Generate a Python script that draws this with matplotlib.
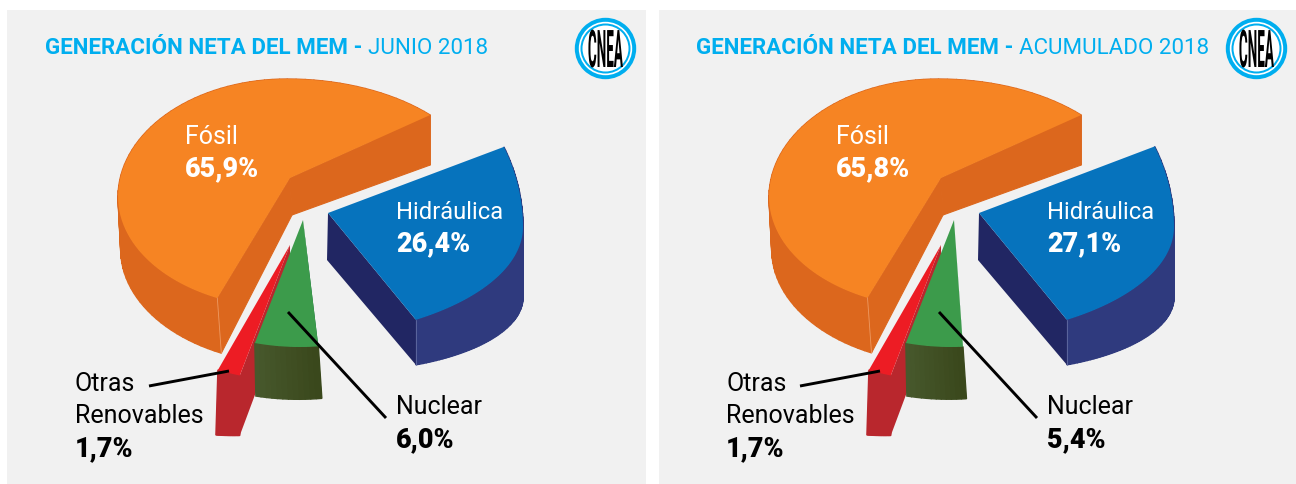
import numpy as np
import matplotlib
matplotlib.use("Agg")
import matplotlib.pyplot as plt
from matplotlib.patches import Rectangle, Circle
from matplotlib.patheffects import AbstractPathEffect
from matplotlib.transforms import Affine2D

# data
titles = ["JUNIO 2018", "ACUMULADO 2018"]
fosil = [65.9, 65.8]
hidraulica = [26.4, 27.1]
nuclear = [6.0, 5.4]
otras = [1.7, 1.7]

plt.rcParams["font.family"] = ["Roboto", "DejaVu Sans"]

CYAN = "#00AEEF"
DPX = 0.72  # px to pt at dpi 100


class StretchY(AbstractPathEffect):
    # tall narrow letters of the logo
    def __init__(self, sy):
        super().__init__()
        self.sy = sy

    def draw_path(self, renderer, gc, tpath, affine, rgbFace=None):
        renderer.draw_path(gc, tpath, Affine2D().scale(1, self.sy) + affine, rgbFace)


def arc(shape, t1, t2, n=80):
    # shape: cx, cy, rx right, rx left, ry top, ry bottom
    cx, cy, rxr, rxl, ryt, ryb = shape
    t = np.radians(np.linspace(t1, t2, n))
    c, s = np.cos(t), np.sin(t)
    x = cx + np.where(c > 0, rxr, rxl) * c
    y = cy - np.where(s > 0, ryt, ryb) * s
    return x, y


def side(ax, x, y, d1, d2, dx1, dx2, color):
    # one quad per step so the silhouette stays closed at the far left/right
    d = np.linspace(d1, d2, len(x))
    dx = np.linspace(dx1, dx2, len(x))
    for j in range(len(x) - 1):
        ax.fill([x[j], x[j + 1], x[j + 1] + dx[j + 1], x[j] + dx[j]],
                [y[j], y[j + 1], y[j + 1] + d[j + 1], y[j] + d[j]],
                color=color, lw=1)
    return x + dx, y + d


def draw_pie(ax, i, ox):
    # the wedges of the source are not true to scale, so each has its own factor
    # fosil
    sh = (287 + ox, 197, 199, 169, 118, 111)
    x, y = arc(sh, 44, 44 + 3.6 * fosil[i] * 0.85)
    bx, by = side(ax, x, y, 50, 55, 0, 4, "#DC671D")
    ap = (290 + ox, 178)
    ab = (292 + ox, 215)
    ax.fill([ap[0], x[0], bx[0], ab[0]], [ap[1], y[0], by[0], ab[1]], color="#DC671D", lw=0.8)
    ax.fill([ap[0], x[-1], bx[-1], ab[0]], [ap[1], y[-1], by[-1], ab[1]], color="#DC671D", lw=0.8)
    ax.fill(np.r_[ap[0], x], np.r_[ap[1], y], color="#F68423", lw=0)
    ax.plot([x[-1], bx[-1]], [y[-1], by[-1]], color="#EE9A62", lw=0.6)

    # hidraulica
    sh = (280 + ox, 227, 243, 243, 206, 112)
    x, y = arc(sh, -56, -56 + 3.6 * hidraulica[i] * [0.83, 0.81][i])
    bx, by = side(ax, x, y, 45, 81, 0, 0, "#2F3A7E")
    ap = (328 + ox, 213)
    ax.fill([ap[0], x[0], bx[0], ap[0] - 1], [ap[1], y[0], by[0], ap[1] + 47], color="#212663", lw=0)
    ax.fill(np.r_[ap[0], x], np.r_[ap[1], y], color="#0673BD", lw=0)
    ax.plot([x[0], bx[0]], [y[0], by[0]], color="#6C76A8", lw=0.5)

    # otras renovables
    sh = (290 + ox, 240, 190, 190, 140.5, 140.5)
    x, y = arc(sh, 247.7, 247.7 + 3.6 * otras[i] * 1.14, 20)
    ap = (290 + ox, 245)
    bx, by = side(ax, x, y, 65, 60, -2, 0, "#B9272D")
    ax.fill([ap[0], x[-1], bx[-1], ap[0]], [ap[1], y[-1], by[-1], 301], color="#B9272D", lw=0)
    ax.fill(np.r_[ap[0], x], np.r_[ap[1], y], color="#ED1C24", lw=0)

    # nuclear
    sh = (300 + ox, 237, 170, 170, 110, 110)
    x, y = arc(sh, 254.6, 254.6 + 3.6 * nuclear[i], 13)
    ap = (303 + ox, 220)
    d = np.linspace(53, 52, len(x))
    dx = np.linspace(1, 3.5, len(x))
    ax.fill([ap[0], x[-1], x[-1] + dx[-1]], [ap[1], y[-1], y[-1] + d[-1]], color="#00602F", lw=0)
    c1 = np.array(matplotlib.colors.to_rgb("#47582C"))
    c2 = np.array(matplotlib.colors.to_rgb("#3A481C"))
    for j in range(len(x) - 1):
        col = c1 + (c2 - c1) * j / (len(x) - 2)
        ax.fill([x[j], x[j + 1], x[j + 1] + dx[j + 1], x[j] + dx[j]],
                [y[j], y[j + 1], y[j + 1] + d[j + 1], y[j] + d[j]],
                color=col, lw=1)
    ax.fill(np.r_[ap[0], x], np.r_[ap[1], y], color="#3C9B4B", lw=0)


def draw_logo(ax, cx, cy):
    for r, col in [(30.7, CYAN), (26.7, "white"), (25, CYAN), (23, "white")]:
        ax.add_patch(Circle((cx, cy), r, color=col, lw=0))
    t = ax.text(cx, cy + 18.5, "CNEA", color="black", fontsize=13.5 * DPX, fontweight="bold",
                ha="center", va="baseline")
    t.set_path_effects([StretchY(3.85)])


def pct(v):
    return f"{v:.1f}%".replace(".", ",")


fig = plt.figure(figsize=(12.96, 4.84), dpi=100)
ax = fig.add_axes([0, 0, 1, 1])
ax.set_xlim(0, 1296)
ax.set_ylim(484, 0)
ax.axis("off")

ax.add_patch(Rectangle((7, 10), 639, 474, color="#F1F1F1", lw=0))
ax.add_patch(Rectangle((659, 10), 637, 474, color="#F1F1F1", lw=0))

LAB = 25 * DPX
NUM = 27 * DPX
for i, ox in enumerate([0, 651]):
    t = ax.text(45 + ox, 54, "GENERACIÓN NETA DEL MEM - ", color=CYAN, fontsize=22.4 * DPX,
                fontweight="bold", va="baseline")
    ax.annotate(titles[i], xy=(1, 0), xycoords=t, color=CYAN, fontsize=22.4 * DPX, va="bottom")
    draw_logo(ax, 605.5 + ox, 48.5)
    draw_pie(ax, i, ox)

    ax.plot(np.array([149, 229]) + ox, [386, 371], color="black", lw=2.1, solid_capstyle="butt")
    ax.plot(np.array([288, 386]) + ox, [312, 418], color="black", lw=2.1, solid_capstyle="butt")

    ax.text(185 + ox, 144, "Fósil", color="white", fontsize=LAB, va="baseline")
    ax.text(185 + ox, 176, pct(fosil[i]), color="white", fontsize=NUM, fontweight=900, va="baseline")
    ax.text(396 + ox, 219, "Hidráulica", color="white", fontsize=23.7 * DPX, va="baseline")
    ax.text(396 + ox, 251, pct(hidraulica[i]), color="white", fontsize=NUM, fontweight=900, va="baseline")
    ax.text(75 + ox, 391, "Otras", color="black", fontsize=LAB, va="baseline")
    ax.text(75 + ox, 423, "Renovables", color="black", fontsize=LAB, va="baseline")
    ax.text(75 + ox, 456, pct(otras[i]), color="black", fontsize=NUM, fontweight=900, va="baseline")
    ax.text(396 + ox, 414, "Nuclear", color="black", fontsize=LAB, va="baseline")
    ax.text(396 + ox, 447, pct(nuclear[i]), color="black", fontsize=NUM, fontweight=900, va="baseline")

fig.savefig("out.png", dpi=100)
